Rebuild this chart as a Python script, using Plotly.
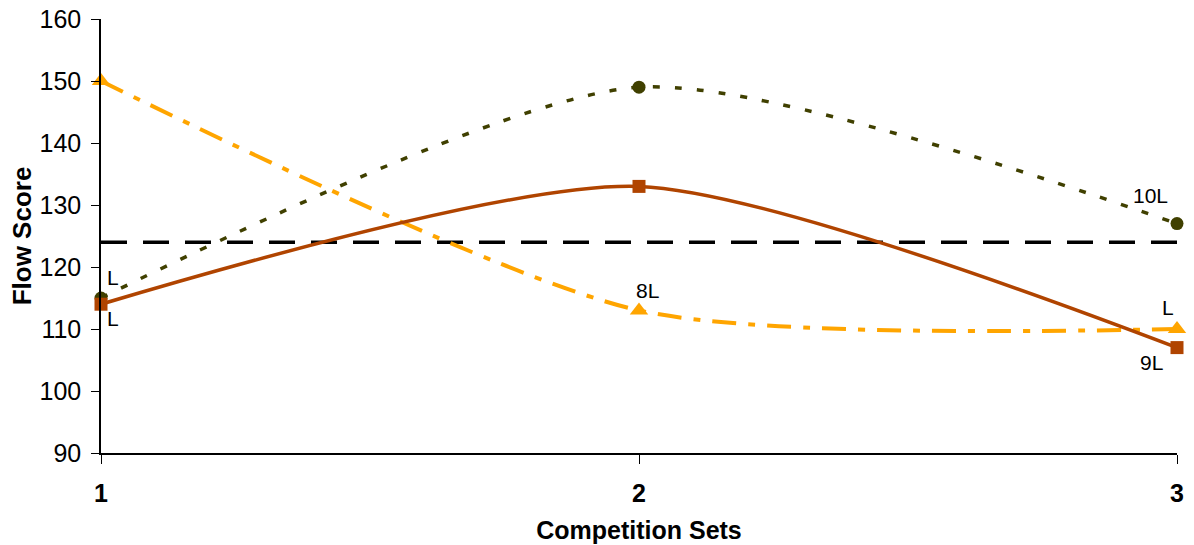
import plotly.graph_objects as go

# Competition sets and flow scores per series
sets = [1, 2, 3]
olive_scores = [115, 149, 127]
brown_scores = [114, 133, 107]
orange_scores = [150, 113, 110]
reference_level = 124

olive_labels = ["L", "", "10L"]
brown_labels = ["L", "", "9L"]
orange_labels = ["", "8L", "L"]

OLIVE = "#404000"
BROWN = "#B04400"
ORANGE = "#FFA500"
FONT = "Liberation Sans, Arial, sans-serif"
SMOOTH = 0.7

fig = go.Figure()

# Horizontal reference level
fig.add_trace(go.Scatter(
    x=[sets[0], sets[-1]], y=[reference_level, reference_level], mode="lines",
    line=dict(color="black", width=3.5, dash="26px,16px"), hoverinfo="skip",
    cliponaxis=False))

fig.add_trace(go.Scatter(
    x=sets, y=orange_scores, mode="lines+markers", cliponaxis=False,
    line=dict(color=ORANGE, width=4, shape="spline", smoothing=SMOOTH, dash="24px,12px,7px,12px"),
    marker=dict(symbol="triangle-up", size=16, color=ORANGE)))

fig.add_trace(go.Scatter(
    x=sets, y=olive_scores, mode="lines+markers", cliponaxis=False,
    line=dict(color=OLIVE, width=3.5, shape="spline", smoothing=SMOOTH, dash="7px,15px"),
    marker=dict(symbol="circle", size=13, color=OLIVE)))

fig.add_trace(go.Scatter(
    x=sets, y=brown_scores, mode="lines+markers", cliponaxis=False,
    line=dict(color=BROWN, width=3.5, shape="spline", smoothing=SMOOTH),
    marker=dict(symbol="square", size=13, color=BROWN)))

# Point labels with offsets (pixels)
label_offsets = [
    (olive_labels, olive_scores, [(12, 21), None, (-27, 28)]),
    (brown_labels, brown_scores, [(12, -14), None, (-26, -15)]),
    (orange_labels, orange_scores, [None, (8, 20), (-9, 22)]),
]
for labels, values, offsets in label_offsets:
    for xv, yv, txt, off in zip(sets, values, labels, offsets):
        if txt and off:
            fig.add_annotation(x=xv, y=yv, text=txt, showarrow=False,
                               xshift=off[0], yshift=off[1],
                               font=dict(family=FONT, size=21, color="black"))

fig.update_layout(
    width=1194, height=545,
    margin=dict(l=101, r=17, t=19, b=92),
    paper_bgcolor="white", plot_bgcolor="white",
    showlegend=False,
    font=dict(family=FONT, color="black"),
)
fig.update_xaxes(
    range=[1, 3], tickvals=sets, ticktext=[str(s) for s in sets],
    showgrid=False, zeroline=False, automargin=False,
    showline=True, linecolor="black", linewidth=1.5,
    ticks="outside", ticklen=9, tickcolor="black", tickwidth=1,
    ticklabelstandoff=8,
    tickfont=dict(family=FONT, size=25, color="black", weight="bold"),
    title=dict(text="<b>Competition Sets</b>", font=dict(family=FONT, size=25), standoff=16),
)
fig.update_yaxes(
    range=[90, 160], dtick=10,
    showgrid=False, zeroline=False, automargin=False,
    showline=True, linecolor="black", linewidth=1.5,
    ticks="outside", ticklen=8, tickcolor="black", tickwidth=1,
    ticklabelstandoff=5,
    tickfont=dict(family=FONT, size=25, color="black"),
    title=dict(text="<b>Flow Score</b>", font=dict(family=FONT, size=26), standoff=0),
)

fig.write_html("out.html")
